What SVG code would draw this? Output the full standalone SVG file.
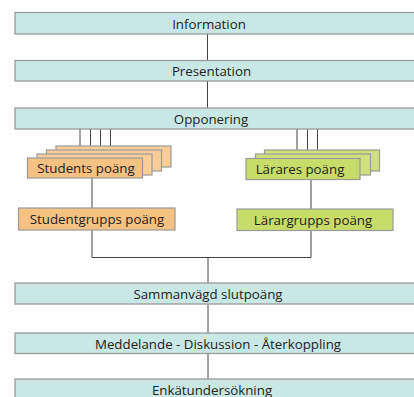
<svg xmlns="http://www.w3.org/2000/svg" width="414" height="397" viewBox="0 0 414 397">
<style>
.bar{fill:#c9e8e5;stroke:#9a9a9a;stroke-width:1.3}
.or{fill:#f6c283;stroke:#9a9a9a;stroke-width:1.2}
.orb{fill:#f8cd98;stroke:#9a9a9a;stroke-width:1.2}
.gr{fill:#c8dc6a;stroke:#9a9a9a;stroke-width:1.2}
.grb{fill:#d0e07c;stroke:#9a9a9a;stroke-width:1.2}
.t{font-family:"Open Sans","Noto Sans",sans-serif;font-size:13.3px;fill:#222;text-anchor:middle}
.c{fill:none;stroke:#444;stroke-width:1}
</style>
<rect width="414" height="397" fill="#fff"/>
<g id="connectors">
<path class="c" d="M207.5 34V61M207.5 81V108"/>
<path class="c" d="M80 129V158M90.5 129V154M100.5 129V150M110.5 129V146"/>
<path class="c" d="M297 129V158M307.5 129V154M317.5 129V150"/>
<path class="c" d="M92 178V208M311 180V209"/>
<path class="c" d="M92 230V257.5H311V230.5M208 257.5V283"/>
<path class="c" d="M208 304V333M208 353V379"/>
</g>
<g id="information"><rect class="bar" x="15" y="12.5" width="420" height="21.5"/><text class="t" x="209" y="28.5">Information</text></g>
<g id="presentation"><rect class="bar" x="15" y="60.5" width="420" height="20.5"/><text class="t" x="211.5" y="76">Presentation</text></g>
<g id="opponering"><rect class="bar" x="15" y="108" width="420" height="21"/><text class="t" x="211" y="123.5">Opponering</text></g>
<g id="students">
<rect class="orb" x="56" y="146" width="115" height="21"/>
<rect class="orb" x="46.5" y="150" width="115" height="21"/>
<rect class="orb" x="37" y="154" width="115" height="21"/>
<rect class="or" x="27.5" y="158" width="115" height="20"/>
<text class="t" x="86" y="173">Students poäng</text>
</g>
<g id="larares">
<rect class="grb" x="264.5" y="150" width="115" height="21"/>
<rect class="grb" x="255.5" y="154" width="115" height="21"/>
<rect class="gr" x="246" y="158.5" width="114" height="21"/>
<text class="t" x="300" y="174">Lärares poäng</text>
</g>
<g id="studentgrupps"><rect class="or" x="18.5" y="208" width="156.5" height="22"/><text class="t" x="97" y="224">Studentgrupps poäng</text></g>
<g id="larargrupps"><rect class="gr" x="237" y="209" width="156" height="21.5"/><text class="t" x="313" y="225">Lärargrupps poäng</text></g>
<g id="sammanvagd"><rect class="bar" x="15" y="283" width="420" height="21"/><text class="t" x="208" y="298.5">Sammanvägd slutpoäng</text></g>
<g id="meddelande"><rect class="bar" x="15" y="333" width="420" height="20.5"/><text class="t" x="218" y="348.5">Meddelande - Diskussion - Återkoppling</text></g>
<g id="enkat"><rect class="bar" x="15" y="379" width="420" height="22"/><text class="t" x="212" y="394.5">Enkätundersökning</text></g>
</svg>
